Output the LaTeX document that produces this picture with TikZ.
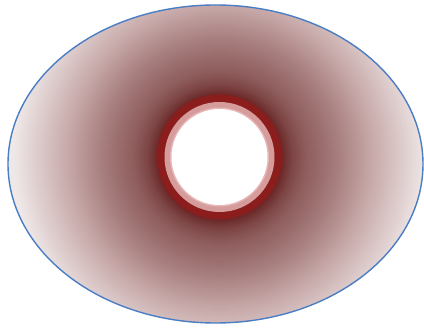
\documentclass[tikz,border=0pt]{standalone}
\definecolor{shA}{HTML}{5A1C1C}
\definecolor{shB}{HTML}{6A2828}
\definecolor{shC}{HTML}{7E4646}
\definecolor{shD}{HTML}{8E5C5C}
\definecolor{shE}{HTML}{A87F7F}
\definecolor{shF}{HTML}{C7A8A8}
\definecolor{shG}{HTML}{E0D0D0}
\definecolor{shH}{HTML}{EFE8E8}
\definecolor{darkring}{HTML}{8C1D1D}
\definecolor{pinkring}{HTML}{D69C9C}
\definecolor{pinklight}{HTML}{E6B8B8}
\definecolor{outline}{HTML}{4A7DC4}
\pgfdeclareradialshading{bgshade}{\pgfpoint{0bp}{0bp}}{color(0bp)=(shA); color(7.25bp)=(shB); color(8.5bp)=(shC); color(10bp)=(shD); color(13.85bp)=(shE); color(17.65bp)=(shF); color(21.65bp)=(shG); color(24bp)=(shH); color(50bp)=(shH)}
\tikzset{
  ringdark/.style={fill=darkring},
  ringpink/.style={fill=pinkring},
  rimline/.style={draw=outline, line width=1.4pt}
}
\begin{document}
\begin{tikzpicture}[x=1pt,y=-1pt]
\useasboundingbox (0,0) rectangle (424,328);
\coordinate (c) at (219.5,157);
\coordinate (e) at (215.5,164);
\begin{scope}
  \clip (e) ellipse [x radius=207.5pt, y radius=159pt];
  \shade[shading=bgshade] (c) circle [radius=215pt];
\end{scope}
\fill[darkring, opacity=0.35] (c) circle [radius=63.5pt];
\path[ringdark] (c) circle [radius=62pt];
\path[ringpink] (c) circle [radius=55pt];
\fill[pinklight] (c) circle [radius=49.5pt];
\fill[white] (c) circle [radius=48pt];
\path[rimline] (e) ellipse [x radius=207.5pt, y radius=159pt];
\end{tikzpicture}
\end{document}
